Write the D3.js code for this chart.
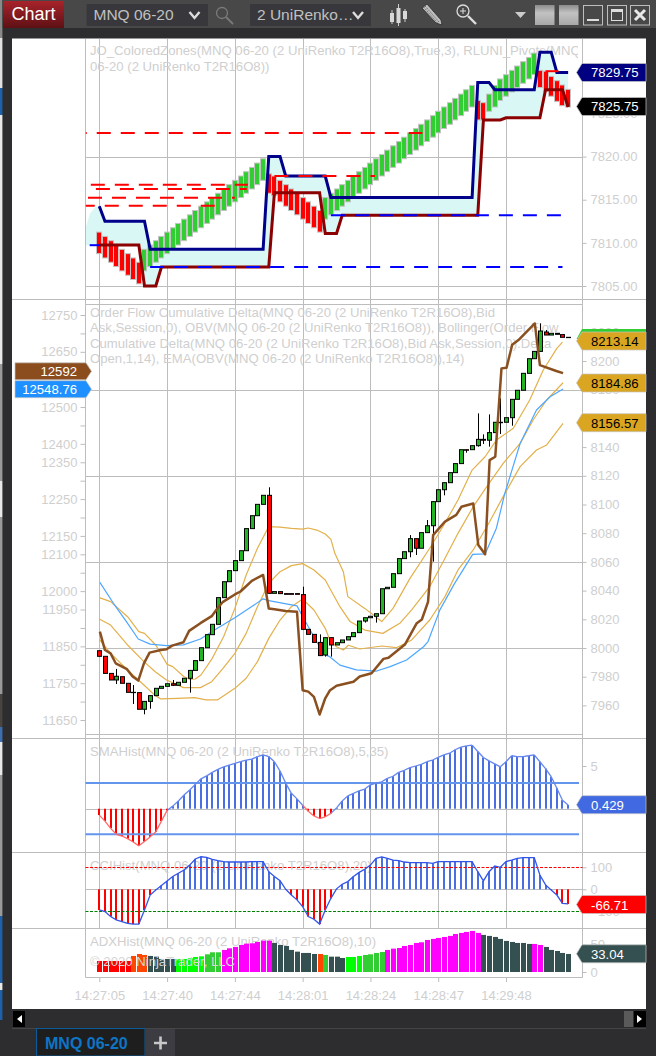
<!DOCTYPE html>
<html>
<head>
<meta charset="utf-8">
<script src="https://cdn.jsdelivr.net/npm/d3@7"></script>
<style>
  html, body { margin: 0; padding: 0; background: #2d2d30; }
  svg { display: block; font-family: "Liberation Sans", Arial, sans-serif; }
  .tick text { fill: #cfcfcf; font-size: 13px; }
  .tick line { stroke: #bdbdbd; }
  .legend { fill: #cfcfcf; font-size: 13.15px; }
</style>
</head>
<body>
<svg id="chart" width="656" height="1056"></svg>
<script>
// ---- renko bars of the top panel (bar index = position)
const renkoTop = [7811.25,7810.75,7810.25,7809.75,7809.25,7808.75,7808.25,7807.75,
  7809.25,7809.75,7810.25,7810.75,7811.25,7811.75,7812.25,7812.75,7813.25,7813.75,7814.25,7814.75,
  7815.25,7815.75,7816.25,7816.75,7817.25,7817.75,7818.25,7818.75,7819.25,7819.75,
  7818,7817.75,7817.25,7816.75,7816.25,7815.75,7815.25,7814.75,7814.25,7813.75,
  7815.25,7815.75,7816.25,7816.75,7817.25,7817.75,7818.25,7818.75,7819.25,7819.75,
  7820.25,7820.75,7821.25,7821.75,7822.25,7822.75,7823.25,7823.75,7824.25,7824.75,
  7825.25,7825.75,7826.25,7826.75,7827.25,7827.75,7828.25,
  7826.5,7826.25,7827.25,7828.25,7829,7829.5,7830,7830.5,7831,7831.5,7832,
  7830,7829.9,7829.3,7828.8,7828.3,7827.8];
const renkoBottom = [7808.75,7808.25,7807.75,7807.25,7806.75,7806.25,7805.75,7805.25,
  7806.75,7807.25,7807.75,7808.25,7808.75,7809.25,7809.75,7810.25,7810.75,7811.25,7811.75,7812.25,
  7812.75,7813.25,7813.75,7814.25,7814.75,7815.25,7815.75,7816.25,7816.75,7817.25,
  7815.75,7815.5,7814.75,7814.25,7813.75,7813.25,7812.75,7812.25,7811.75,7811.25,
  7812.75,7813.25,7813.75,7814.25,7814.75,7815.25,7815.75,7816.25,7816.75,7817.25,
  7817.75,7818.25,7818.75,7819.25,7819.75,7820.25,7820.75,7821.25,7821.75,7822.25,
  7822.75,7823.25,7823.75,7824.25,7824.75,7825.25,7825.75,
  7824.25,7824.25,7825.25,7825.75,7826.5,7827,7827.5,7828,7828.5,7829,7829.5,
  7828,7827.55,7827,7826.4,7825.9,7825.75];
const renkoDown = [0,1,2,3,4,5,6,7,30,31,32,33,34,35,36,37,38,39,67,68,78,79,80,81,82,83];

// zone lines: [bar, price]
const zoneUpper = [[0,7814.25],[1,7812.5],[8,7812.5],[9,7809.25],[29,7809.25],[30,7820],[32,7820],[33,7817.75],
  [40,7817.75],[41,7815.25],[66,7815.25],[67,7828.6],[69,7828.6],[70,7827.75],[77,7827.75],[78,7832.1],[80,7832.1],[81,7829.75],[83,7829.75]];
const zoneLower = [[0,7809.75],[7,7809.75],[8,7805],[10,7805],[11,7807.2],[30,7807.2],[31,7815.8],[39,7815.8],
  [40,7811.1],[42,7811.1],[43,7813.2],[67,7813.2],[68,7824.25],[71,7824.25],[72,7824.5],[78,7824.5],[79,7827.75],[82,7827.75],[83,7825.75]];
const zoneLeadIn = [[-2.35,7811.9],[-1.65,7813.4],[-0.75,7814.1]];
const zoneLeadEnd = [-2.35,7809.7];

// pivot levels: [from bar, to bar, price, dash phase]
const pivotsRed = [[-2.4,57.2,7822.75,13],[-1.5,26.3,7816.74,0],[-0.6,26.1,7816.24,0],[-2,24,7815.23,0],[-2.4,20.5,7814.3,5],[31,48.8,7817.75,0],[79,81.3,7829.9,0]];
const pivotsBlue = [[9,82,7807.2,0],[41,81.9,7813.2,0],[-1.7,0.1,7809.73,0]];

// ---- cumulative delta candles (right scale)
const candleOpen = [7998.1,7994.2,7982.3,7977.7,7980,7975.4,7969.1,7968.9,7957.3,7962.8,7966.8,7971.9,7973.3,7975.1,7974,7976.1,
  7978.9,7984.4,7991.2,8000.2,8009.3,8016.5,8035.1,8046.2,8053.9,8060.9,8067.8,8083.2,8092.2,8100.1,8106.4,8038.1,
  8039.3,8037.9,8037.9,8037.9,8037.2,8013,8009.5,8003.9,7995.1,8007.2,8002.1,8003.7,8005.6,8007.9,8010.7,8018.8,
  8021.1,8022.1,8023.9,8041.3,8042.3,8051.8,8062.3,8067.1,8076.2,8069.5,8080.4,8085.2,8102,8110.3,8115.2,8122.2,
  8128.5,8138.2,8138.2,8141,8145.4,8144.8,8150.1,8157.3,8157.3,8160.5,8173.3,8179.6,8191.4,8201.6,8206.7,8220.2,
  8218.1,8219.3,8218.4,8216.5];
const candleClose = [7994.2,7982.3,7977.7,7980.3,7975.4,7969.1,7968.9,7957.3,7962.8,7966.8,7971.9,7973.3,7975.1,7974,7976.1,7978.9,
  7984.4,7991.2,8000.2,8009.3,8016.5,8035.1,8046.2,8053.9,8060.9,8067.8,8083.2,8092.2,8100.1,8106.4,8038.1,8039.3,
  8037.9,8037.4,8037.4,8037.4,8013,8009.5,8003.9,7994.7,8007.2,8002.1,8003.7,8005.6,8007.9,8010.7,8018.8,8021.1,
  8022.1,8023.9,8041.3,8042.3,8051.8,8062.3,8067.1,8076.2,8069.5,8080.4,8085.2,8102,8110.3,8115.2,8122.2,8128.5,
  8138.2,8137.8,8141,8145.4,8144.8,8150.1,8157.3,8157,8160.5,8173.3,8179.6,8191.4,8201.6,8206.7,8220.9,8218.1,
  8219.3,8218.6,8216.5,8216.3];
// long wicks: bar, high, low
const wickBar  = [3,6,8,9,13,16,30,36,39,40,41,47,49,55,56,58,59,61,65,67,68,69,71,73,78,79];
const wickHigh = [7985.4,7974.2,7962.8,7966.8,7977.7,7984.4,8112,8042.7,8009.5,8007.2,8007.2,8021.1,8023.9,8078.7,8076.2,8089.2,8102,8115.2,8138.2,8163.5,8148.9,8162.8,8174,8173.3,8226.2,8221.6];
const wickLow  = [7974.9,7961,7953.8,7957.7,7973.5,7968.9,8038.1,8013,7994.7,7994,7994,8017.7,8017.7,8063.2,8064.8,8080.4,8060.2,8106.4,8136.1,8140.3,8142.2,8140.3,8149.1,8154.9,8206.7,8218.1];

// bollinger bands of the delta: [bar, value]
const bbUpper = [[0,8035.1],[2,8032.3],[5,8021.8],[7,8011.4],[8,8010.2],[10,8002.1],[12,7988.6],[13,7987],[15,7980],[16,7978.2],[17,7978.4],[18,7981.2],
  [20,7992.8],[22,8007.9],[24,8027.6],[26,8050.9],[28,8069.5],[30,8084.6],[32,8084.3],[34,8083.4],[36,8082.9],[37,8083.6],[38.5,8082.2],[40,8079.4],
  [41,8075.7],[41.7,8066],[43.2,8053.2],[44,8035.8],[47,8027.6],[50,8018.4],[52,8027.6],[53,8034.6],[55,8048.5],[58.5,8069.5],[61,8085.7],[63.5,8103.1],
  [66,8124],[68.3,8133.3],[70.3,8144.9],[73.3,8153.1],[76.2,8172.8],[78.6,8193.7],[81,8208.8],[82,8213.14]];
const bbMiddle = [[0,8020.2],[2,8016],[5,8002.1],[7.9,7990.5],[9.9,7983.5],[11.9,7977.7],[14.9,7972.4],[17.9,7972.4],[19.9,7976.5],[21.9,7985.8],[24,7996.3],
  [26,8010.2],[28,8028.8],[30,8045.1],[32,8053.2],[34,8057.4],[36,8058.8],[38,8054.4],[40,8047.4],[40.8,8041.6],[42.6,8028.8],[44.4,8018.4],[47,8012.5],
  [50.2,8010.2],[53.2,8017.2],[55.3,8026.5],[58.5,8042.7],[61.2,8062.5],[63.5,8079.9],[66.2,8098.5],[68.6,8112.4],[71.5,8128.7],[74.5,8142.6],[76.8,8158.9],
  [79.2,8172.8],[82.1,8184.86]];
const bbLower = [[0,8006],[2,7996.3],[5,7984.7],[7.9,7974.2],[9.9,7966.8],[10.9,7964.5],[13.9,7964.9],[16.9,7965.4],[18.9,7963.8],[20.9,7963.8],[24,7971.9],
  [26,7978.9],[28,7990.5],[30,8006.7],[32,8019.5],[34,8028.8],[36,8034.1],[38,8026.5],[40,8013.7],[40.8,8005.6],[42,8000.9],[43.2,7998.6],[44.1,8001.9],
  [46.1,7999.3],[50,8001.4],[52.6,8000.2],[55.3,8005.6],[58.5,8019.5],[61.2,8035.8],[63.5,8054.4],[66.2,8068.3],[69.1,8088],[71.5,8105.5],[74.5,8126.4],
  [77.4,8138],[79.2,8141.5],[82.1,8156.57]];

// OBV and its EMA (left scale)
const emaObv = [[0.1,12024],[2.5,11967],[4.8,11917],[6.9,11870],[9,11856],[11.9,11852],[14.9,11854],[17.9,11870],[20.9,11899],[24,11928],[27,11958],[29,11979],
  [30,11974],[35,11960],[36,11931],[38,11876],[39,11849],[40,11827],[40.8,11822],[42.6,11799],[45.5,11786],[49.1,11783],[51.5,11795],[54.4,11813],[57.4,11849],
  [58.2,11863],[60.3,11949],[62.9,12021],[66.1,12100],[68.3,12101],[70.3,12171],[71.8,12266],[74.5,12401],[77.4,12492],[79.8,12528],[82.1,12548.76]];
const obv = [[0.1,11890],[1,11840],[2,11831],[2.9,11804],[4.9,11788],[5.9,11768],[6.9,11757],[7.9,11804],[8.9,11833],[10.9,11840],[11.9,11842],[12.9,11852],
  [14.9,11861],[15.9,11892],[17.9,11913],[19.9,11932],[20.9,11953],[21.9,11971],[24,11991],[25,11999],[27,12028],[29,12044],[30,11953],[31,11951],[33,11946],
  [35,11944],[36,11731],[37,11727],[38,11713],[39,11665],[40,11709],[40.8,11730],[42,11743],[45,11754],[46.1,11768],[48.2,11777],[50.3,11816],[51.2,11819],
  [54.1,11855],[56.2,11913],[57.1,11923],[58.2,11971],[59.1,12152],[61.2,12189],[63.2,12207],[64.1,12229],[66.2,12238],[67.1,12125],[68.3,12100],[69.1,12356],
  [70.1,12365],[71.2,12605],[72.1,12607],[73.1,12669],[74.2,12682],[77.1,12727],[78,12614],[80.9,12598],[82.1,12592]];

// lower indicators, one value per bar
const smaHist = [-0.75,-1.45,-2.3,-3,-3.2,-3.5,-3.9,-4.35,-3.85,-3.3,-2.7,-1.45,-0.2,0.3,0.9,1.6,2.2,2.85,3.5,3.85,4.25,4.6,4.9,5.1,5.3,5.5,5.7,5.8,6.1,6.3,
  6.1,5.5,4.4,3,1.8,1.15,0.4,-0.3,-0.85,-1.15,-0.95,-0.55,0.1,0.9,1.5,1.8,2.1,2.3,2.8,3,3.15,3.55,3.8,4.25,4.5,4.8,5,5.2,5.5,5.7,6,6.3,6.5,6.9,7.2,7.35,7.45,
  6.7,6,5.6,5.25,4.9,5.5,6.2,6.1,6.1,6.2,6.3,5.5,4.7,3.75,2.4,1,0.429];
const cciHist = [-94,-101,-124,-139,-147,-155,-158,-158,-94,-26,-3,17,38,58,73,88,110,138,148,145,136,130,126,124,124,124,124,126,126,126,80,58,39,0,-26,-48,-79,
  -124,-136,-158,-94,-41,2,23,35,58,77,91,110,141,147,141,133,130,124,121,121,121,121,118,126,126,126,126,126,126,126,80,38,80,106,100,126,133,141,144,144,144,
  65,20,-3,-26,-64,-66.71];
const adxHist = [20.2,20.2,20.2,20.2,20.2,20.2,29.4,33,31.2,29.4,28.1,23.9,23.9,23.9,23.9,23.9,25.1,27.5,28.7,32.4,36.1,36.1,40.4,43.4,45.9,49.5,52,52.6,55,57.5,57.5,
  53.2,49.5,47.7,40.4,37.3,34.9,34.9,33,33,31.2,28.1,28.1,25.7,27.5,27.5,29.4,31.2,32.4,34.9,36.7,40.4,42.8,44,47.7,49.5,53.2,54.4,58.7,60.6,62.4,64.2,66.1,69.7,
  71.6,73.4,75.2,71.6,67.9,66.1,64.2,60.6,56.9,55,53.2,53.2,51.4,51.4,49.5,45.9,40.4,38.5,34.9,33.04];
const adxKind = "rrrrrr" + "ooo" + "ddddd" + "lllll" + "ggg" + "mmmmmmmmm" + "dddddddd" + "o" + "g" + "ddd" + "lll" + "gggg" + "mmmmmmmmmmmmmmmmm" + "ddddddddd" + "mm" + "ddddd";
const adxColors = { r: "#ff0000", o: "#ff4500", d: "#355050", l: "#00ff00", g: "#32cd32", m: "#ff00ff" };

const timeBars = [0,12,24,36,48,60,72];
const timeLabels = ["14:27:05","14:27:40","14:27:44","14:28:01","14:28:24","14:28:47","14:29:48"];

const leftTicksLabelled = [12750,12650,12500,12400,12350,12250,12150,12100,12000,11950,11850,11750,11650];
const leftTicksBare = [12700,12450,12300,12200,12050,11900,11800,11700];
const rightTicks = [8220,8200,8180,8160,8140,8120,8100,8080,8060,8040,8020,8000,7980,7960];
const priceTicks = [7805,7810,7815,7820,7825];

const legendTop = ["JO_ColoredZones(MNQ 06-20 (2 UniRenko T2R16O8),True,3), RLUNI_Pivots(MNQ","06-20 (2 UniRenko T2R16O8))"];
const legendMid = ["Order Flow Cumulative Delta(MNQ 06-20 (2 UniRenko T2R16O8),Bid","Ask,Session,0), OBV(MNQ 06-20 (2 UniRenko T2R16O8)), Bollinger(Order Flow",
  "Cumulative Delta(MNQ 06-20 (2 UniRenko T2R16O8),Bid Ask,Session,0).Delta","Open,1,14), EMA(OBV(MNQ 06-20 (2 UniRenko T2R16O8)),14)"];

// desktop showing past the left edge of the window: [top, bottom, colour]
const desktopStrips = [[0,38,"#8a8a8a"],[38,88,"#e0e0e0"],[88,115,"#1d62a8"],[115,364,"#e8e8e8"],[364,481,"#9a9a9a"],[481,517,"#e8e8e8"],[517,694,"#9a9a9a"],
  [694,727,"#4a4440"],[727,742,"#3d6fb0"],[742,775,"#e8e8e8"],[775,916,"#9a9a9a"],[916,983,"#1d62a8"],[983,990,"#e8e8e8"],[990,1020,"#1d62a8"],[1020,1056,"#2d2d30"]];

const svg = d3.select("#chart");
const GRID = "#bdbdbd";
const px = v => Math.round(v) + 0.5;

const x = d3.scaleLinear().domain([0, 72]).range([99.3, 506]);
const LEFT = 85.5, RIGHT = 582.5, WHITE_L = 12, WHITE_R = 646;

const yPrice = d3.scaleLinear().domain([7805, 7820]).range([286, 156.6]);
const yRight = d3.scaleLinear().domain([8000, 8200]).range([648, 361]);
const yLeft  = d3.scaleLinear().domain([11650, 12750]).range([720, 315]);
const ySma   = d3.scaleLinear().domain([0, 5]).range([808.7, 766]);
const yCci   = d3.scaleLinear().domain([-100, 100]).range([911.3, 867.3]);
const yAdx   = d3.scaleLinear().domain([0, 50]).range([972, 944.7]);

// window frame
svg.append("rect").attr("width", 656).attr("height", 1056).attr("fill", "#2d2d30");
svg.append("g").selectAll("rect").data(desktopStrips).join("rect")
  .attr("x", 0).attr("width", 2.4).attr("y", d => d[0]).attr("height", d => d[1] - d[0]).attr("fill", d => d[2]);
svg.append("rect").attr("x", 2.4).attr("width", 653.6).attr("height", 28).attr("fill", "#484848");
svg.append("rect").attr("x", WHITE_L).attr("y", 38.5).attr("width", WHITE_R - WHITE_L).attr("height", 970.5).attr("fill", "#fff");

// panel separators
[299, 738, 852, 928].forEach(s => {
  svg.append("line").attr("x1", WHITE_L).attr("x2", WHITE_R).attr("y1", s + 0.5).attr("y2", s + 0.5).attr("stroke", GRID);
});

// grid
const grid = svg.append("g").attr("stroke", GRID).attr("fill", "none");
timeBars.forEach(b => grid.append("line").attr("x1", px(x(b))).attr("x2", px(x(b))).attr("y1", 39).attr("y2", 928));
[yPrice(7805), yPrice(7820)].concat([8240,8180,8120,8060,8000,7940].map(yRight), [ySma(0), yCci(0), 977]).forEach(v => {
  grid.append("line").attr("x1", LEFT).attr("x2", RIGHT).attr("y1", px(v)).attr("y2", px(v));
});
grid.append("line").attr("x1", LEFT).attr("x2", LEFT).attr("y1", 39).attr("y2", 977.5);
grid.append("line").attr("x1", RIGHT).attr("x2", RIGHT).attr("y1", 39).attr("y2", 977.5);

// legends sit behind the marks
svg.append("clipPath").attr("id", "legclip").append("rect").attr("x", 86).attr("y", 39).attr("width", 492).attr("height", 940);
function legend(lines, top, step) {
  svg.append("g").attr("clip-path", "url(#legclip)").selectAll("text").data(lines).join("text")
    .attr("class", "legend").attr("x", 90).attr("y", (d, i) => top + i * step).text(d => d);
}
legend(legendTop, 55, 16);
legend(legendMid, 317, 15.3);
legend(["SMAHist(MNQ 06-20 (2 UniRenko T2R16O8),5,35)"], 756, 0);
legend(["CCIHist(MNQ 06-20 (2 UniRenko T2R16O8),20)"], 870, 0);
legend(["ADXHist(MNQ 06-20 (2 UniRenko T2R16O8),10)"], 946, 0);

// axes
function rightAxis(scale, values, fmt) {
  const g = svg.append("g").attr("transform", `translate(${RIGHT},0)`)
    .call(d3.axisRight(scale).tickValues(values).tickSize(4).tickPadding(4).tickFormat(fmt));
  g.select(".domain").remove();
}
rightAxis(yPrice, priceTicks, d3.format(".2f"));
rightAxis(yRight, rightTicks, d3.format("d"));
rightAxis(ySma, [5], d3.format("d"));
rightAxis(yCci, [100, 0, -100], d3.format("d"));
rightAxis(yAdx, [50, 0], d3.format("d"));

function leftAxis(values, fmt) {
  const g = svg.append("g").attr("transform", `translate(${LEFT},0)`)
    .call(d3.axisLeft(yLeft).tickValues(values).tickSize(5).tickPadding(3).tickFormat(fmt));
  g.select(".domain").remove();
}
leftAxis(leftTicksLabelled, d3.format("d"));
leftAxis(leftTicksBare, () => "");

const bottom = svg.append("g").attr("transform", "translate(0,977)")
  .call(d3.axisBottom(x).tickValues(timeBars).tickSize(5).tickPadding(9).tickFormat((d, i) => timeLabels[i]));
bottom.select(".domain").remove();

// top panel: zone band, bars, zone lines, pivots
const zoneX = d => x(d[0]), zoneY = d => yPrice(d[1]);
const bandPts = zoneLeadIn.concat(zoneUpper, zoneLower.slice().reverse(), [zoneLeadEnd]);
svg.append("path").attr("d", d3.line().x(zoneX).y(zoneY)(bandPts) + "Z").attr("fill", "#d9f7f5");

svg.append("g").selectAll("rect").data(renkoTop).join("rect")
  .attr("x", (d, i) => Math.round(x(i)) - 2.5).attr("width", 5)
  .attr("y", d => yPrice(d)).attr("height", (d, i) => yPrice(renkoBottom[i]) - yPrice(d))
  .attr("fill", (d, i) => renkoDown.includes(i) ? "#ff0000" : "#32cd32")
  .attr("stroke", "#c4c4c4").attr("stroke-width", 1);

const zoneLine = d3.line().x(zoneX).y(zoneY);
svg.append("path").attr("d", zoneLine(zoneUpper)).attr("fill", "none").attr("stroke", "#00008b").attr("stroke-width", 3);
svg.append("path").attr("d", zoneLine(zoneLower)).attr("fill", "none").attr("stroke", "#8b0000").attr("stroke-width", 3);

function pivots(rows, colour) {
  svg.append("g").selectAll("line").data(rows).join("line")
    .attr("x1", d => x(d[0])).attr("x2", d => x(d[1]))
    .attr("y1", d => yPrice(d[2])).attr("y2", d => yPrice(d[2]))
    .attr("stroke", colour).attr("stroke-width", 2).attr("stroke-dasharray", "14 10").attr("stroke-dashoffset", d => d[3]);
}
pivots(pivotsRed, "#ff0000");
pivots(pivotsBlue, "#0000ff");

// middle panel
const curve = scale => d3.line().x(d => x(d[0])).y(d => scale(d[1]));
function midLine(data, scale, colour, w) {
  svg.append("path").attr("d", curve(scale)(data)).attr("fill", "none").attr("stroke", colour).attr("stroke-width", w).attr("stroke-linejoin", "round");
}
midLine(bbUpper, yRight, "#e3b04b", 1.2);
midLine(bbMiddle, yRight, "#e3b04b", 1.2);
midLine(bbLower, yRight, "#e3b04b", 1.2);
midLine(emaObv, yLeft, "#4da6ff", 1.2);

svg.append("g").attr("stroke", "#000").selectAll("line").data(wickBar).join("line")
  .attr("x1", d => px(x(d))).attr("x2", d => px(x(d)))
  .attr("y1", (d, i) => yRight(wickHigh[i])).attr("y2", (d, i) => yRight(wickLow[i]));

svg.append("g").selectAll("rect").data(candleOpen).join("rect")
  .attr("x", (d, i) => Math.round(x(i)) - 1.5).attr("width", 4)
  .attr("y", (d, i) => yRight(Math.max(d, candleClose[i])))
  .attr("height", (d, i) => Math.abs(yRight(d) - yRight(candleClose[i])))
  .attr("fill", (d, i) => candleClose[i] < d ? "#ff0000" : "#22b422")
  .attr("stroke", "#000").attr("stroke-width", 1);

midLine(obv, yLeft, "#8b5020", 2.5);

// SMA histogram
svg.append("g").selectAll("rect").data(smaHist).join("rect")
  .attr("x", (d, i) => Math.round(x(i)) - 1).attr("width", 2)
  .attr("y", d => Math.min(ySma(0), ySma(d))).attr("height", d => Math.abs(ySma(d) - ySma(0)))
  .attr("fill", d => d < 0 ? "#ff0000" : "#4a6fe3");
[3, -3].forEach(v => {
  svg.append("line").attr("x1", LEFT).attr("x2", 579).attr("y1", ySma(v)).attr("y2", ySma(v)).attr("stroke", "#6495ed").attr("stroke-width", 2);
});
svg.append("g").attr("fill", "none").attr("stroke-width", 1.3).selectAll("path").data(d3.pairs(smaHist.map((v, i) => [i, v]))).join("path")
  .attr("d", d => curve(ySma)(d)).attr("stroke", d => d[1][1] < 0 ? "#ff6a6a" : "#6486ee");

// CCI histogram
svg.append("g").selectAll("rect").data(cciHist).join("rect")
  .attr("x", (d, i) => Math.round(x(i)) - 1).attr("width", 2)
  .attr("y", d => Math.min(yCci(0), yCci(d))).attr("height", d => Math.abs(yCci(d) - yCci(0)))
  .attr("fill", d => d < 0 ? "#ff0000" : "#4a6fe3");
svg.append("line").attr("x1", LEFT).attr("x2", RIGHT).attr("y1", px(yCci(100))).attr("y2", px(yCci(100))).attr("stroke", "#ff0000").attr("stroke-dasharray", "3 1.5");
svg.append("line").attr("x1", LEFT).attr("x2", RIGHT).attr("y1", px(yCci(-100))).attr("y2", px(yCci(-100))).attr("stroke", "#008000").attr("stroke-dasharray", "3 1.5");
svg.append("path").attr("d", curve(yCci)(cciHist.map((v, i) => [i, v]))).attr("fill", "none").attr("stroke", "#3355e8").attr("stroke-width", 1.3);

// ADX histogram
svg.append("g").selectAll("rect").data(adxHist).join("rect")
  .attr("x", (d, i) => Math.round(x(i)) - 2).attr("width", 5)
  .attr("y", d => yAdx(d)).attr("height", d => yAdx(0) - yAdx(d))
  .attr("fill", (d, i) => adxColors[adxKind[i]]);
svg.append("text").attr("x", 90).attr("y", 966).attr("fill", "#d6d6d6").attr("font-size", 13.15).text("© 2020 NinjaTrader, LLC");

// value badges
function badgeRight(cy, text, bg, fg) {
  svg.append("path").attr("d", `M576.5,${cy} L582,${cy - 9} H646 V${cy + 9} H582 Z`).attr("fill", bg).attr("stroke", "#c4c4c4").attr("stroke-width", 0.7);
  svg.append("text").attr("x", 591).attr("y", cy + 5).attr("font-size", 13.15).attr("fill", fg).text(text);
}
function badgeLeft(cy, text, bg) {
  svg.append("path").attr("d", `M15,${cy - 8.5} H86 L91.5,${cy} L86,${cy + 8.5} H15 Z`).attr("fill", bg).attr("stroke", "#c4c4c4").attr("stroke-width", 0.7);
  svg.append("text").attr("x", 77).attr("y", cy + 5).attr("text-anchor", "end").attr("font-size", 13.15).attr("fill", "#fff").text(text);
}
badgeRight(yPrice(7829.75), "7829.75", "#000080", "#fff");
badgeRight(yPrice(7825.75) - 0.5, "7825.75", "#000", "#fff");
svg.append("path").attr("d", "M576.5,339 L582,329 H646 V340 H582 Z").attr("fill", "#32cd32");
badgeRight(341, "8213.14", "#daa520", "#000");
badgeRight(383, "8184.86", "#daa520", "#000");
badgeRight(422.7, "8156.57", "#daa520", "#000");
badgeLeft(371.3, "12592", "#8b4d1e");
badgeLeft(389.2, "12548.76", "#1e90ff");
badgeRight(804.7, "0.429", "#4169e1", "#fff");
badgeRight(904.5, "-66.71", "#ff0000", "#fff");
badgeRight(953.8, "33.04", "#355050", "#fff");

// toolbar
const chartGrad = svg.append("linearGradient").attr("id", "chartBtn").attr("x2", 0).attr("y2", 1);
chartGrad.append("stop").attr("offset", 0).attr("stop-color", "#a8232b");
chartGrad.append("stop").attr("offset", 1).attr("stop-color", "#5e1115");
svg.append("rect").attr("x", 3).attr("y", 1).attr("width", 61).attr("height", 27).attr("fill", "url(#chartBtn)");
svg.append("text").attr("x", 33.5).attr("y", 20).attr("text-anchor", "middle").attr("fill", "#fff").attr("font-size", 18).text("Chart");

[[86.5, 121.5, "MNQ 06-20"], [250, 121, "2 UniRenko…"]].forEach(b => {
  svg.append("rect").attr("x", b[0]).attr("y", 4).attr("width", b[1]).attr("height", 22).attr("fill", "#38383c");
  svg.append("text").attr("x", b[0] + 7).attr("y", 20).attr("fill", "#c0c0c0").attr("font-size", 15.5).text(b[2]);
  svg.append("path").attr("d", `M${b[0] + 103},12 l5,6 l5,-6`).attr("fill", "none").attr("stroke", "#ddd").attr("stroke-width", 2.4);
});
// search icon
svg.append("circle").attr("cx", 222).attr("cy", 13).attr("r", 5.5).attr("fill", "none").attr("stroke", "#7a7a7a").attr("stroke-width", 1.3);
svg.append("line").attr("x1", 226).attr("y1", 17).attr("x2", 233).attr("y2", 24).attr("stroke", "#7a7a7a").attr("stroke-width", 1.8);
// candle icon
[[392, 10, 24, 13, 22], [398.5, 4, 26, 8, 23], [405, 9, 22, 11, 19]].forEach(c => {
  svg.append("line").attr("x1", c[0]).attr("x2", c[0]).attr("y1", c[1]).attr("y2", c[2]).attr("stroke", "#ccc");
  svg.append("rect").attr("x", c[0] - 2).attr("width", 4).attr("y", c[3]).attr("height", c[4] - c[3]).attr("fill", "#d8d8d8");
});
// pencil
svg.append("path").attr("d", "M422,8 L427,4 L441,20 L442,25 L436,23 Z").attr("fill", "#bdbdbd").attr("stroke", "#2b2b2b").attr("stroke-width", 0.8);
svg.append("path").attr("d", "M425,6 L439,22 M423.5,7 L437.5,23").attr("stroke", "#3a3a3a").attr("stroke-width", 0.6).attr("stroke-dasharray", "1.5 1");
// zoom
svg.append("circle").attr("cx", 463).attr("cy", 11).attr("r", 6).attr("fill", "none").attr("stroke", "#ddd").attr("stroke-width", 1.3);
svg.append("path").attr("d", "M460,11 h6 M463,8 v6").attr("stroke", "#ddd");
svg.append("line").attr("x1", 468).attr("y1", 16).attr("x2", 476).attr("y2", 24).attr("stroke", "#ddd").attr("stroke-width", 2.4);
// window buttons
svg.append("path").attr("d", "M515,12 h11 l-5.5,6 Z").attr("fill", "#ccc");
const sq = svg.append("linearGradient").attr("id", "sq").attr("x2", 0).attr("y2", 1);
sq.append("stop").attr("offset", 0).attr("stop-color", "#8c8c8c");
sq.append("stop").attr("offset", 0.4).attr("stop-color", "#c2c2c2");
sq.append("stop").attr("offset", 1).attr("stop-color", "#a8a8a8");
[535, 559].forEach(v => svg.append("rect").attr("x", v).attr("y", 5).attr("width", 19.5).attr("height", 20).attr("fill", "url(#sq)"));
[583, 607, 630].forEach(v => svg.append("rect").attr("x", v + 0.5).attr("y", 5.5).attr("width", 19).attr("height", 19.5).attr("fill", "none").attr("stroke", "#bdbdbd"));
svg.append("rect").attr("x", 587).attr("y", 19).attr("width", 12).attr("height", 2).attr("fill", "#ddd");
svg.append("rect").attr("x", 611.5).attr("y", 9.5).attr("width", 11).attr("height", 11).attr("fill", "none").attr("stroke", "#ddd");
svg.append("rect").attr("x", 611).attr("y", 9).attr("width", 12).attr("height", 3).attr("fill", "#ddd");
svg.append("path").attr("d", "M635,10 L645,20 M645,10 L635,20").attr("stroke", "#e8e8e8").attr("stroke-width", 3);

// scrollbar and tab strip
svg.append("line").attr("x1", 12).attr("x2", 646).attr("y1", 1028.5).attr("y2", 1028.5).attr("stroke", "#454545");
svg.append("rect").attr("x", 13).attr("y", 1011).attr("width", 12).attr("height", 16).attr("fill", "#000");
svg.append("path").attr("d", "M17,1019 l5,-4 v8 Z").attr("fill", "#fff");
svg.append("rect").attr("x", 624).attr("y", 1011).attr("width", 9).attr("height", 16).attr("fill", "#5a5a5a");
svg.append("rect").attr("x", 634).attr("y", 1011).attr("width", 12).attr("height", 16).attr("fill", "#000");
svg.append("path").attr("d", "M642,1019 l-5,-4 v8 Z").attr("fill", "#fff");
svg.append("rect").attr("x", 36.5).attr("y", 1028.5).attr("width", 108.5).attr("height", 27.5).attr("fill", "#1e1e1f").attr("stroke", "#0b5a99");
svg.append("text").attr("x", 45).attr("y", 1049).attr("fill", "#0d75c4").attr("font-size", 16).attr("font-weight", "bold").text("MNQ 06-20");
svg.append("rect").attr("x", 146).attr("y", 1029).attr("width", 29).attr("height", 27).attr("fill", "#3c3c42");
svg.append("path").attr("d", "M154,1043 h13 M160.5,1036.5 v13").attr("stroke", "#c8c8c8").attr("stroke-width", 2.6);
</script>
</body>
</html>
